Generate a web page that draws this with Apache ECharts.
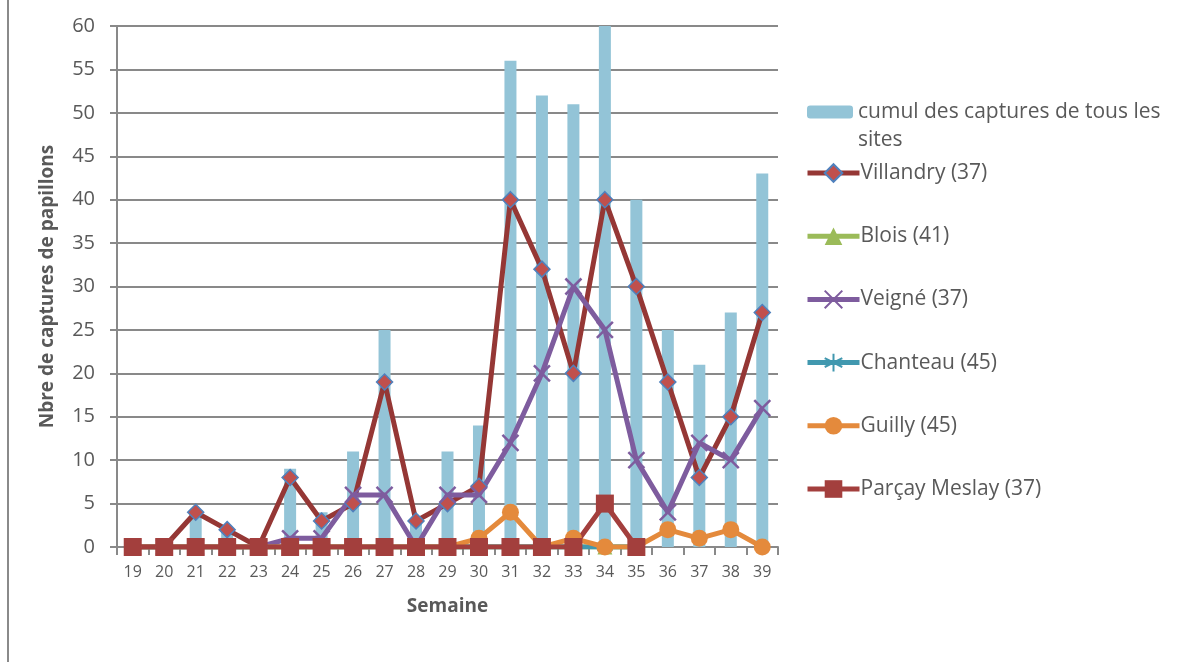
<!DOCTYPE html>
<html><head><meta charset="utf-8">
<script src="https://cdn.jsdelivr.net/npm/echarts@6/dist/echarts.min.js"></script>
<style>html,body{margin:0;padding:0;background:#fff}#c{width:1200px;height:662px}</style>
</head><body><div id="c"></div>
<script>
const weeks = ['19','20','21','22','23','24','25','26','27','28','29','30','31','32','33','34','35','36','37','38','39'];
const cumul     = [0,0,4,2,0,9,4,11,25,3,11,14,56,52,51,60,40,25,21,27,43];
const villandry = [0,0,4,2,0,8,3,5,19,3,5,7,40,32,20,40,30,19,8,15,27];
const blois     = [0,0,0,0,0,0,0,0,0,0,0,0,0,0,0,0,0,null,null,null,null];
const veigne    = [0,0,0,0,0,1,1,6,6,0,6,6,12,20,30,25,10,4,12,10,16];
const chanteau  = [0,0,0,0,0,0,0,0,0,0,0,0,0,0,0,0,0,null,null,null,null];
const guilly    = [0,0,0,0,0,0,0,0,0,0,0,1,4,0,1,0,0,2,1,2,0];
const parcay    = [0,0,0,0,0,0,0,0,0,0,0,0,0,0,0,5,0,null,null,null,null];
const yTicks = ['0','5','10','15','20','25','30','35','40','45','50','55','60'];

const txt = '#595959';
const axisC = '#898989';
const F = 'Open Sans';
const xMark = 'path://M0,0 L10,10 M10,0 L0,10';
const starMark = 'path://M5,0 L5,10 M0,2.5 L10,7.5 M0,7.5 L10,2.5';

const chart = echarts.init(document.getElementById('c'));
chart.setOption({
  animation: false,
  backgroundColor: '#fff',
  grid: {left: 117, right: 422, top: 26, bottom: 115, containLabel: false},
  legend: [
    {data: ['cumul des captures de tous les'], orient: 'vertical', left: 807, top: 101, padding: 0,
     itemWidth: 46, itemHeight: 13, itemGap: 0,
     textStyle: {color: txt, fontFamily: F, fontSize: 21, lineHeight: 22, padding: [0,0,0,0]}},
    {data: ['Villandry (37)','Blois (41)','Veigné (37)','Chanteau (45)','Guilly (45)','Parçay Meslay (37)'],
     orient: 'vertical', left: 805, top: 162, padding: 0, itemWidth: 52, itemHeight: 22, itemGap: 41.2,
     lineStyle: {width: 5},
     textStyle: {color: txt, fontFamily: F, fontSize: 21, lineHeight: 22, padding: [0,0,0,-4]}}
  ],
  graphic: [
    {type: 'line', shape: {x1: 8, y1: 0, x2: 8, y2: 662}, style: {stroke: '#8a8a8a', lineWidth: 2}},
    {type: 'text', x: 858, y: 140, style: {text: 'sites', fill: txt, font: '21px "Open Sans"', verticalAlign: 'middle'}}
  ],
  xAxis: {
    type: 'category', data: weeks, boundaryGap: true,
    name: 'Semaine', nameLocation: 'middle', nameGap: 50,
    nameTextStyle: {color: txt, fontFamily: F, fontWeight: 'bold', fontSize: 19},
    axisLine: {lineStyle: {color: axisC, width: 2}},
    axisTick: {show: true, alignWithLabel: false, length: 8, lineStyle: {color: axisC, width: 2}},
    axisLabel: {color: txt, fontFamily: F, fontSize: 16, margin: 17}
  },
  yAxis: {
    type: 'value', min: 0, max: 60, interval: 5,
    name: 'Nbre de captures de papillons', nameLocation: 'middle', nameGap: 60, nameRotate: 90,
    nameTextStyle: {color: txt, fontFamily: F, fontWeight: 'bold', fontSize: 19},
    axisLine: {show: true, lineStyle: {color: axisC, width: 2}},
    axisTick: {show: true, length: 7, lineStyle: {color: axisC, width: 2}},
    axisLabel: {color: txt, fontFamily: F, fontSize: 20, margin: 22,
                formatter: v => yTicks[v/5]},
    splitLine: {lineStyle: {color: axisC, width: 2}}
  },
  series: [
    {name: 'cumul des captures de tous les', type: 'bar', data: cumul, barWidth: 12,
     itemStyle: {color: '#93C4D7'}},
    {name: 'Villandry (37)', type: 'line', data: villandry, symbol: 'diamond', symbolSize: 16,
     lineStyle: {color: '#953735', width: 5}, itemStyle: {color: '#C0504D', borderColor: '#4F81BD', borderWidth: 1.5}},
    {name: 'Blois (41)', type: 'line', data: blois, symbol: 'triangle', symbolSize: 15,
     lineStyle: {color: '#9BBB59', width: 5}, itemStyle: {color: '#9BBB59'}},
    {name: 'Veigné (37)', type: 'line', data: veigne, symbol: xMark, symbolSize: 16,
     lineStyle: {color: '#7E5C9E', width: 5}, itemStyle: {color: 'rgba(0,0,0,0)', borderColor: '#7E5C9E', borderWidth: 2.5}},
    {name: 'Chanteau (45)', type: 'line', data: chanteau, symbol: starMark, symbolSize: 15,
     lineStyle: {color: '#4198AF', width: 5}, itemStyle: {color: 'rgba(0,0,0,0)', borderColor: '#4198AF', borderWidth: 2.5}},
    {name: 'Guilly (45)', type: 'line', data: guilly, symbol: 'circle', symbolSize: 17,
     lineStyle: {color: '#E48A3C', width: 5}, itemStyle: {color: '#E48A3C'}},
    {name: 'Parçay Meslay (37)', type: 'line', data: parcay, symbol: 'rect', symbolSize: 18,
     lineStyle: {color: '#A33F3D', width: 5}, itemStyle: {color: '#A33F3D'}}
  ]
});
</script></body></html>
